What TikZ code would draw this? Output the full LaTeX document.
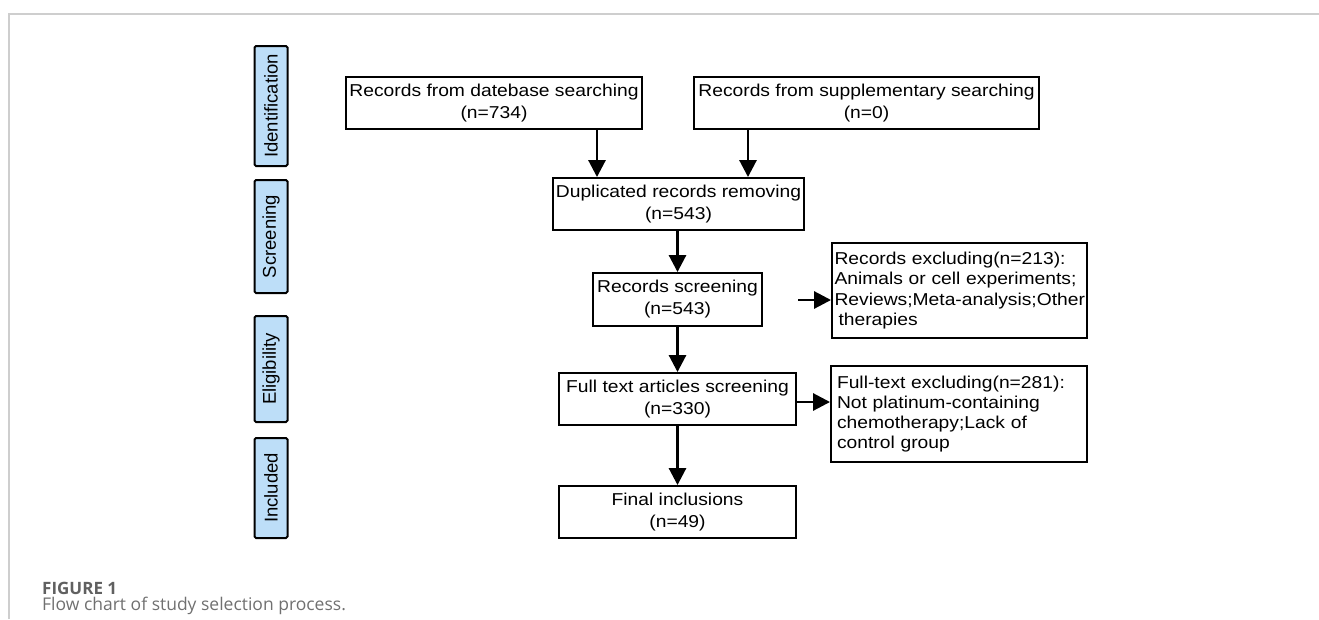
\documentclass[tikz,border=0pt]{standalone}
\usepackage{fontspec}
\setmainfont{Liberation Sans}
\newfontfamily\boxfont[FakeStretch=1.12]{Liberation Sans}
\newfontfamily\capfont{Open Sans}
\usetikzlibrary{arrows.meta}
\definecolor{stagefill}{RGB}{189,222,248}
\definecolor{framegray}{RGB}{206,206,206}
\definecolor{capdark}{RGB}{96,96,96}
\definecolor{caplight}{RGB}{112,112,112}
\tikzset{
  stagebox/.style={draw=black, line width=2pt, fill=stagefill, rounded corners=1.5pt,
    inner sep=0pt, rotate=90, minimum height=33pt,
    font=\fontsize{18.5}{20}\selectfont},
  flowbox/.style={draw=black, line width=1.9pt, inner sep=0pt, align=center,
    minimum height=52pt, font=\boxfont\fontsize{17.2}{22}\selectfont},
  exbox/.style={draw=black, line width=1.9pt, inner ysep=0pt, align=left,
    font=\boxfont\fontsize{17.2}{20.3}\selectfont},
  arr/.style={line width=2.9pt, -{Triangle[width=17pt,length=17pt]}},
  frameline/.style={draw=framegray, line width=1.6pt},
}
\begin{document}
\begin{tikzpicture}[x=1pt,y=-1pt]
\useasboundingbox (0,0) rectangle (1319,619);
% frame
\draw[frameline] (9,619) -- (9,14) -- (1319,14);

% stage labels
\node[stagebox, minimum width=120pt] (sid)  at (271,106)   {Identification};
\node[stagebox, minimum width=113pt] (sscr) at (271,236.5) {Screening};
\node[stagebox, minimum width=106pt] (seli) at (271,369)   {Eligibility};
\node[stagebox, minimum width=100pt] (sinc) at (271,488)   {Included};

% flow boxes
\node[flowbox, minimum width=296pt] (b1)  at (494,103)   {Records from datebase searching\\(n=734)};
\node[flowbox, minimum width=345pt] (b2)  at (866.5,103) {Records from supplementary searching\\(n=0)};
\node[flowbox, minimum width=251pt] (dup) at (678.5,204) {Duplicated records removing\\(n=543)};
\node[flowbox, minimum width=169pt, minimum height=53pt] (rs) at (677.5,299.5) {Records screening\\(n=543)};
\node[flowbox, minimum width=237pt] (ft)  at (677.5,399) {Full text articles screening\\(n=330)};
\node[flowbox, minimum width=237pt] (fin) at (677.5,512) {Final inclusions\\(n=49)};

\node[exbox, inner xsep=2.5pt, text width=250pt, minimum height=95pt] (ex1) at (959.5,290.5)
  {\mbox{Records excluding(n=213):}\\\mbox{Animals or cell experiments;}\\\mbox{Reviews;Meta-analysis;Other}\\\hspace*{4pt}therapies};
\node[exbox, inner xsep=6pt, text width=244pt, minimum height=96pt] (ex2) at (959,414)
  {\mbox{Full-text excluding(n=281):}\\\mbox{Not platinum-containing}\\\mbox{chemotherapy;Lack of}\\\mbox{control group}};

% connectors
\coordinate (xa) at (597,0);
\coordinate (xb) at (748,0);
\coordinate (s1) at (798,300);
\coordinate (y2) at (0,402);
\draw[arr] (b1.south -| xa) -- (dup.north -| xa);
\draw[arr] (b2.south -| xb) -- (dup.north -| xb);
\draw[arr] (dup.south -| rs.north) -- (rs.north);
\draw[arr] (rs.south) -- (ft.north);
\draw[arr] (s1) -- (ex1.west |- s1);
\draw[arr] (ft.east |- y2) -- (ex2.west |- y2);
\draw[arr] (ft.south) -- (fin.north);

% caption
\node[anchor=base west, inner sep=0pt, text=capdark, font=\capfont\bfseries\fontsize{17}{18}\selectfont] (figlabel) at (42,594) {FIGURE 1};
\node[anchor=base west, inner sep=0pt, text=caplight, font=\capfont\fontsize{17.5}{18}\selectfont] (figcap) at (42,610) {Flow chart of study selection process.};
\end{tikzpicture}
\end{document}
